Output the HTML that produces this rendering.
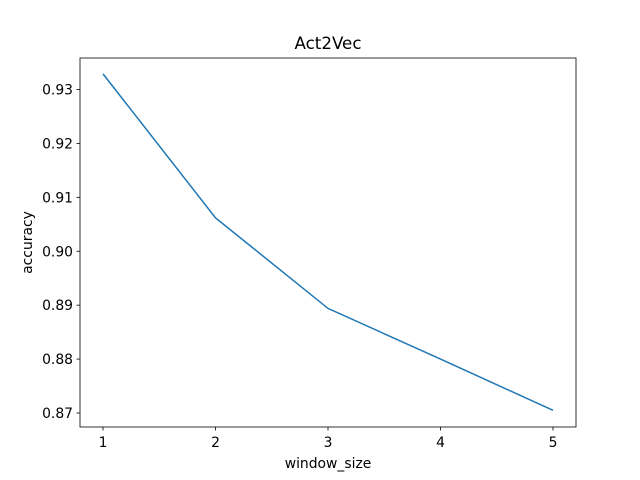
<!DOCTYPE html>
<html><head><meta charset="utf-8"><style>body{margin:0;background:#fff}svg{display:block}text{font-family:"DejaVu Sans","Liberation Sans",sans-serif;fill:#000}</style></head>
<body>
<svg id="chart" width="640" height="480">
<rect x="0" y="0" width="640" height="480" fill="#fff"/>
<text x="328" y="49" font-size="16.7" text-anchor="middle">Act2Vec</text>
<text x="328" y="468" font-size="13.9" text-anchor="middle">window_size</text>
<text x="32" y="242.5" font-size="13.9" text-anchor="middle" transform="rotate(-90 32 242.5)">accuracy</text>
<g id="ticks"></g>
<polyline id="series" fill="none" stroke="#1f77b4" stroke-width="1.5"/>
<rect x="80" y="58" width="496" height="369" fill="none" stroke="#000" stroke-width="0.8"/>
</svg>
<script>
const windowSizes = [1, 2, 3, 4, 5];
const accuracy = [0.9329, 0.9062, 0.8894, 0.8800, 0.8705];
const xTicks = [1, 2, 3, 4, 5];
const yTicks = [0.87, 0.88, 0.89, 0.90, 0.91, 0.92, 0.93];
const yTickLabels = ["0.87", "0.88", "0.89", "0.90", "0.91", "0.92", "0.93"];

const xs = v => 103 + (v - 1) * 112.5;
const ys = v => 413 - (v - 0.87) / 0.06 * 323.5;
const NS = "http://www.w3.org/2000/svg";
const g = document.getElementById('ticks');
function mk(tag, attrs) { const e = document.createElementNS(NS, tag); for (const k in attrs) e.setAttribute(k, attrs[k]); return e; }
xTicks.forEach(t => {
  const l = mk('line', {x1: xs(t), x2: xs(t), y1: 427, y2: 430.5, stroke: '#000', 'stroke-width': 0.8});
  
  
  g.appendChild(l);
  const tx = mk('text', {x: xs(t), y: 447, 'font-size': 13.9, 'text-anchor': 'middle'});
  tx.textContent = t;
  
  
  g.appendChild(tx);
});
yTicks.forEach((t, i) => {
  const l = mk('line', {x1: 76.5, x2: 80, y1: ys(t), y2: ys(t), stroke: '#000', 'stroke-width': 0.8});
  
  
  g.appendChild(l);
  const tx = mk('text', {x: 73, y: ys(t) + 5, 'font-size': 13.9, 'text-anchor': 'end'});
  tx.textContent = yTickLabels[i];
  
  
  g.appendChild(tx);
});
document.getElementById('series').setAttribute('points', windowSizes.map((w, i) => xs(w) + ',' + ys(accuracy[i])).join(' '));
</script>
</body></html>
